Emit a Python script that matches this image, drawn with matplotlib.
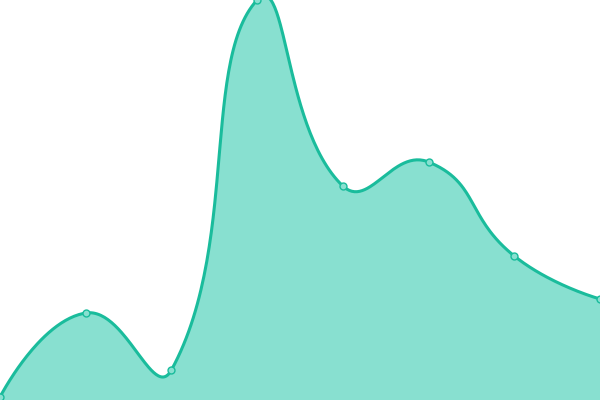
import numpy as np
import matplotlib.pyplot as plt

categories = ['A', 'B', 'C', 'D', 'E', 'F', 'G', 'H']
values = [3, 87, 30, 400, 214, 238, 144, 101]

line_color = '#1abc9c'
fill_color = '#88e0d0'

W, H = 600, 400
smooth = 0.5


def smooth_curve(pts, n=60):
    # bezier spline, control points scaled by neighbouring segment lengths
    m = len(pts)
    cin = pts.copy()
    cout = pts.copy()
    for i in range(1, m - 1):
        d = pts[i + 1] - pts[i - 1]
        l0 = np.hypot(*(pts[i] - pts[i - 1]))
        l1 = np.hypot(*(pts[i + 1] - pts[i]))
        r = l1 / (l0 + l1)
        cout[i] = pts[i] + d * smooth * r
        cin[i] = pts[i] - d * smooth * (1 - r)
    t = np.linspace(0, 1, n, endpoint=False)[:, None]
    out = []
    for i in range(m - 1):
        p0, p1, p2, p3 = pts[i], cout[i], cin[i + 1], pts[i + 1]
        out.append((1 - t) ** 3 * p0 + 3 * (1 - t) ** 2 * t * p1
                   + 3 * (1 - t) * t ** 2 * p2 + t ** 3 * p3)
    out.append(pts[-1][None, :])
    return np.vstack(out)


x = np.arange(len(categories), dtype=float)
y = np.array(values, dtype=float)
# work in pixel units so the curve shape follows screen distances
px = x / (len(categories) - 1) * W
py = y / 400 * H
curve = smooth_curve(np.column_stack([px, py]))
sx = curve[:, 0] / W * (len(categories) - 1)
sy = curve[:, 1] / H * 400

fig = plt.figure(figsize=(6, 4), dpi=100)
ax = fig.add_axes([0, 0, 1, 1])
ax.fill_between(sx, 0, sy, color=fill_color, linewidth=0)
ax.plot(sx, sy, color=line_color, linewidth=2.2, solid_capstyle='round')
ax.plot(x, y, 'o', markersize=5, markerfacecolor=fill_color,
        markeredgecolor=line_color, markeredgewidth=1)
ax.set_xlim(0, len(categories) - 1)
ax.set_ylim(0, 400)
ax.axis('off')
fig.savefig('out.png', dpi=100)
